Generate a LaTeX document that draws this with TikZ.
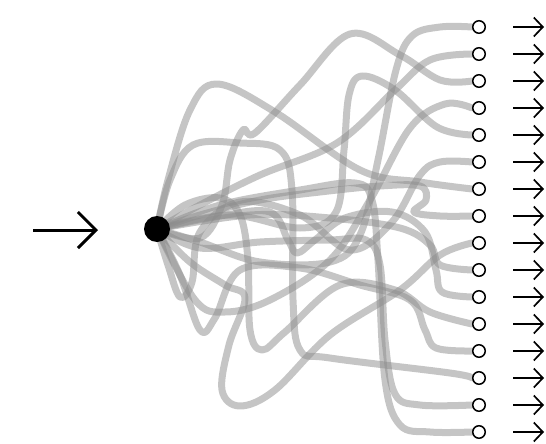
\documentclass[tikz,border=0pt]{standalone}
\usetikzlibrary{arrows.meta}
\usetikzlibrary{backgrounds}
\usetikzlibrary{calc}

\begin{document}
\begin{tikzpicture}[x=1pt, y=-1pt,
  wire/.style={line width=7pt, draw=black!45, opacity=0.5, line cap=round, line join=round},
  hub/.style={circle, fill=black, minimum size=26pt, inner sep=0pt},
  port/.style={circle, draw=black, fill=white, line width=1.5pt, minimum size=12.5pt, inner sep=0pt},
  outarrow/.style={line width=1.7pt, -{Straight Barb[length=9pt, width=19pt, line width=1.7pt]}},
  inarrow/.style={line width=3pt, -{Straight Barb[length=18pt, width=36pt, line width=3pt]}}]
\useasboundingbox (0,0) rectangle (546,444);

%source
\node[hub] (src) at (157,229) {};
\coordinate (in0) at (33,230);
\coordinate (in1) at (98,230);
\draw[inarrow] (in0) -- (in1);

%ports and outgoing arrows
\foreach \i in {1,...,16} {
\node[port] (o\i) at (479,{27*\i}) {};
\coordinate (a\i) at (513,{27*\i});
\coordinate (b\i) at (544,{27*\i});
\draw[outarrow] (a\i) -- (b\i);
}

%wires
\begin{pgfonlayer}{background}
\draw[wire] plot[smooth, tension=0.6] coordinates {(src) (200,242) (260,262) (330,262) (360,235) (378,160) (396,70) (412,36) (440,27) (o1.west)};
\draw[wire] plot[smooth, tension=0.6] coordinates {(src) (200,205) (260,175) (337,143) (395,90) (430,60) (o2.west)};
\draw[wire] plot[smooth, tension=0.6] coordinates {(src) (200,238) (222,205) (230,160) (243,130) (255,133) (300,85) (350,34) (400,55) (440,80) (o3.west)};
\draw[wire] plot[smooth, tension=0.6] coordinates {(src) (195,300) (225,312) (270,300) (330,260) (370,200) (410,128) (445,104) (o4.west)};
\draw[wire] plot[smooth, tension=0.6] coordinates {(src) (230,215) (300,228) (336,212) (344,150) (349,95) (362,76) (395,90) (437,127) (o5.west)};
\draw[wire] plot[smooth, tension=0.6] coordinates {(src) (168,265) (180,297) (192,282) (200,232) (240,202) (300,215) (350,250) (392,222) (420,175) (440,162) (o6.west)};
\draw[wire] plot[smooth, tension=0.6] coordinates {(src) (168,180) (190,110) (217,84) (275,112) (360,170) (420,182) (o7.west)};
\draw[wire] plot[smooth, tension=0.6] coordinates {(src) (200,215) (260,200) (320,192) (380,186) (420,186) (426,200) (414,212) (440,216) (o8.west)};
\draw[wire] plot[smooth, tension=0.6] coordinates {(src) (190,262) (225,285) (245,298) (229,345) (222,390) (240,406) (275,390) (330,335) (400,290) (440,255) (o9.west)};
\draw[wire] plot[smooth, tension=0.6] coordinates {(src) (250,215) (330,218) (400,228) (430,245) (440,265) (o10.west)};
\draw[wire] plot[smooth, tension=0.6] coordinates {(src) (220,216) (270,212) (288,240) (297,253) (315,240) (345,218) (392,212) (425,232) (436,270) (442,292) (o11.west)};
\draw[wire] plot[smooth, tension=0.6] coordinates {(src) (185,205) (220,198) (240,215) (248,260) (250,330) (262,350) (285,332) (340,285) (395,290) (430,312) (o12.west)};
\draw[wire] plot[smooth, tension=0.6] coordinates {(src) (180,275) (200,330) (215,318) (240,270) (300,268) (360,285) (410,300) (425,330) (436,348) (o13.west)};
\draw[wire] plot[smooth, tension=0.6] coordinates {(src) (170,180) (193,145) (240,143) (280,150) (292,190) (293,300) (300,350) (330,358) (450,373) (o14.west)};
\draw[wire] plot[smooth, tension=0.6] coordinates {(src) (200,248) (260,242) (330,240) (366,240) (380,265) (385,340) (395,394) (420,405) (o15.west)};
\draw[wire] plot[smooth, tension=0.6] coordinates {(src) (220,205) (300,190) (355,183) (372,200) (378,260) (385,380) (400,425) (430,432) (o16.west)};
\end{pgfonlayer}
\end{tikzpicture}
\end{document}
